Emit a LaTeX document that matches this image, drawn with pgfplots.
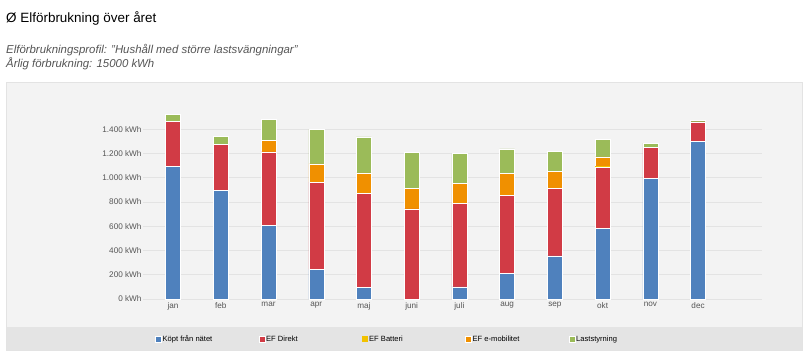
\documentclass[border=0pt]{standalone}
\usepackage{pgfplots}
\pgfplotsset{compat=1.18}
\usepackage{fontspec}
\setmainfont{Liberation Sans}
\definecolor{cBlue}{HTML}{4F81BD}
\definecolor{cRed}{HTML}{D13B45}
\definecolor{cYellow}{HTML}{F2C200}
\definecolor{cOrange}{HTML}{F09000}
\definecolor{cGreen}{HTML}{9BBB59}
\definecolor{cBg}{HTML}{F3F3F3}
\definecolor{cLeg}{HTML}{E4E4E4}
\definecolor{cGrid}{HTML}{E3E3E3}
\definecolor{cTxt}{HTML}{555555}
\newcommand{\lt}[1]{\makebox[93bp][l]{#1}}
\begin{document}
\begin{tikzpicture}[x=1bp,y=1bp]
\fill[white] (0,0) rectangle (809,353);
% title and subtitles
\node[anchor=west,inner sep=0pt,font=\fontsize{13.5}{15}\selectfont] at (6,335) {Ø Elförbrukning över året};
\node[anchor=west,inner sep=0pt,text=cTxt,font=\fontsize{11.45}{13}\selectfont\itshape] at (6,303) {Elförbrukningsprofil: "Hushåll med större lastsvängningar"};
\node[anchor=west,inner sep=0pt,text=cTxt,font=\fontsize{11.45}{13}\selectfont\itshape] at (6,289) {Årlig förbrukning: 15000 kWh};
% chart box
\filldraw[fill=cBg,draw=cGrid] (6,3) rectangle (802,271);
\fill[cLeg] (7,3.5) rectangle (801.5,26);
\begin{axis}[
  at={(143bp,54bp)}, anchor=south west,
  scale only axis, width=619bp, height=193.9bp,
  xmin=-0.63, xmax=12.34, ymin=0, ymax=1600,
  ybar stacked, bar width=15bp,
  axis line style={draw=none},
  ymajorgrids, grid style={cGrid, line width=1bp},
  ytick={0,200,...,1400},
  xtick={0,...,11},
  xticklabels={jan,feb,mar,apr,maj,juni,juli,aug,sep,okt,nov,dec},
  tick style={draw=none},
  /pgf/number format/.cd, 1000 sep={.}, assume math mode=true, /pgfplots/.cd,
  yticklabel={\pgfmathprintnumber{\tick}~kWh},
  yticklabel style={font=\fontsize{8.2}{10}\selectfont, text=cTxt, xshift=2bp},
  xticklabel style={font=\fontsize{8.2}{10}\selectfont, text=cTxt, yshift=0bp},
  legend columns=5,
  legend style={at={(9bp,-40bp)}, anchor=west, draw=none, fill=none,
    font=\fontsize{7.6}{9}\selectfont, text=black,
    nodes={inner sep=1bp},
    /tikz/every even column/.append style={column sep=2bp}},
  legend image code/.code={\fill[#1] (0bp,-3bp) rectangle (6bp,3bp);},
]
\addplot[fill=cBlue, draw=white, line width=0.5bp] coordinates {(0,1095) (1,897) (2,605) (3,245) (4,93) (5,0) (6,101) (7,209) (8,355) (9,583) (10,996) (11,1301)};
\addlegendentry{\lt{Köpt från nätet}}
\addplot[fill=cRed, draw=white, line width=0.5bp] coordinates {(0,371) (1,382) (2,610) (3,720) (4,779) (5,743) (6,685) (7,649) (8,555) (9,505) (10,253) (11,160)};
\addlegendentry{\lt{EF Direkt}}
\addplot[fill=cYellow, draw=none] coordinates {(0,0) (1,0) (2,0) (3,0) (4,0) (5,0) (6,0) (7,0) (8,0) (9,7) (10,0) (11,0)};
\addlegendentry{\lt{EF Batteri}}
\addplot[fill=cOrange, draw=white, line width=0.5bp] coordinates {(0,0) (1,0) (2,91) (3,151) (4,168) (5,167) (6,171) (7,176) (8,141) (9,77) (10,0) (11,0)};
\addlegendentry{\lt{EF e-mobilitet}}
\addplot[fill=cGreen, draw=white, line width=0.5bp] coordinates {(0,55) (1,60) (2,177) (3,284) (4,297) (5,303) (6,242) (7,204) (8,170) (9,143) (10,38) (11,16)};
\addlegendentry{\lt{Laststyrning}}
\end{axis}
\end{tikzpicture}
\end{document}
